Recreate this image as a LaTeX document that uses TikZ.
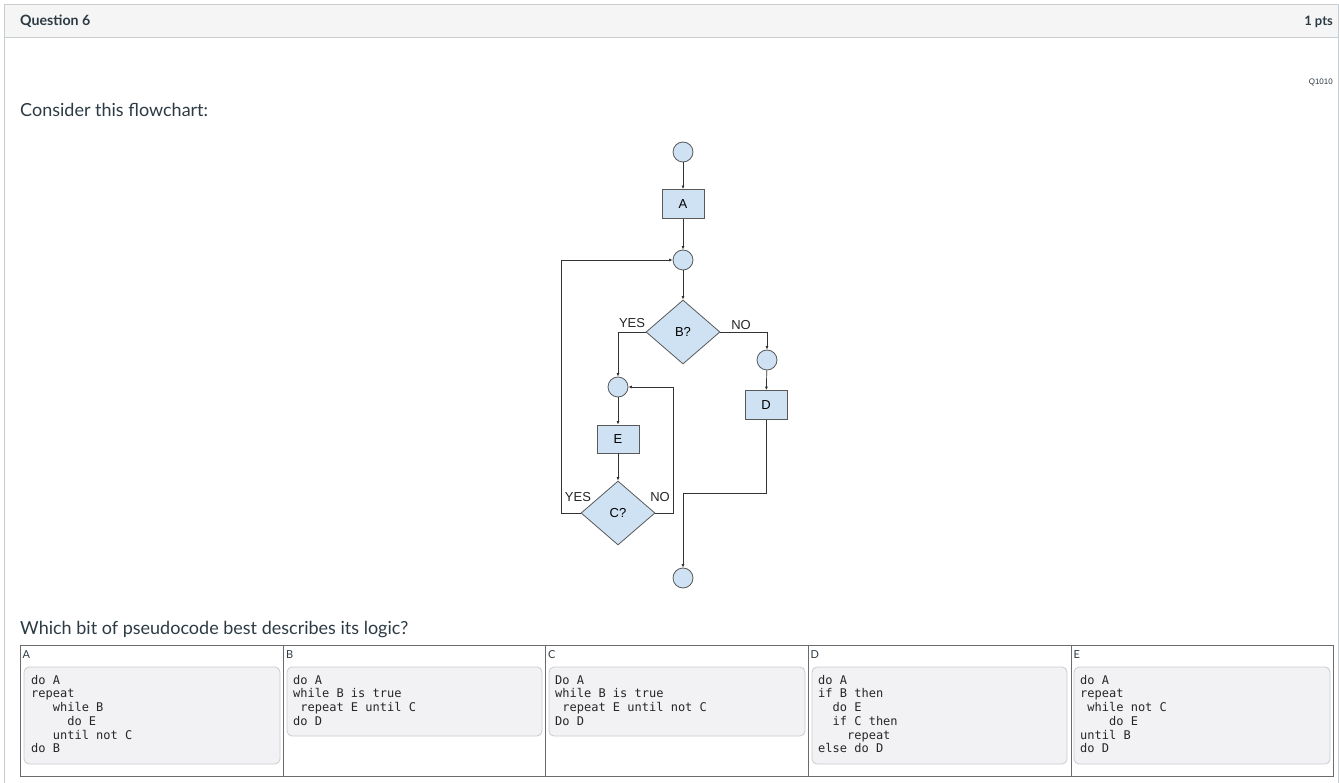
\documentclass[tikz,border=0pt]{standalone}
\usepackage{fontspec}
\setmainfont{Lato}
\setmonofont{DejaVu Sans Mono}
\newfontfamily\arialf{Liberation Sans}
\usetikzlibrary{shapes.geometric,arrows.meta}
\definecolor{hdrfill}{HTML}{F5F5F5}
\definecolor{hdrline}{HTML}{C7CDD1}
\definecolor{txt}{HTML}{2D3B45}
\definecolor{fcfill}{HTML}{CFE2F3}
\definecolor{fcline}{HTML}{595959}
\definecolor{codefill}{HTML}{F2F2F4}
\definecolor{codeline}{HTML}{C7CDD1}
\definecolor{tabline}{HTML}{6B6B6B}
\tikzset{
  fcjoin/.style={circle, draw=fcline, fill=fcfill, line width=0.8pt, minimum size=20pt, inner sep=0pt},
  fcbox/.style={rectangle, draw=fcline, fill=fcfill, line width=0.8pt, minimum width=42pt, minimum height=29pt, inner sep=0pt, font=\arialf\fontsize{13}{15}\selectfont},
  fcdec/.style={diamond, aspect=1.156, draw=fcline, fill=fcfill, line width=0.8pt, minimum width=74pt, minimum height=64pt, inner sep=0pt, font=\arialf\fontsize{13}{15}\selectfont},
  fclab/.style={font=\arialf\fontsize{13}{15}\selectfont, inner sep=0pt, text=black!85},
  conn/.style={draw=black!80, line width=0.7pt, -{Latex[length=3.5pt,width=3pt]}},
  plain/.style={draw=black!80, line width=0.7pt},
  codebox/.style={draw=codeline, fill=codefill, rounded corners=5pt, line width=0.8pt},
  codetxt/.style={anchor=base west, inner sep=0pt, text=black!85, font=\ttfamily\fontsize{12}{13.75}\selectfont},
  collab/.style={anchor=north west, inner sep=0pt, text=txt, font=\fontsize{11}{13}\selectfont},
}
\newcommand{\codecol}[1]{\begin{tabular}[t]{@{}l@{}}#1\end{tabular}}
\begin{document}
\begin{tikzpicture}[x=1pt,y=-1pt]
\useasboundingbox (0,0) rectangle (1339,783);
\fill[white] (0,0) rectangle (1339,783);
% header
\fill[hdrfill] (4.5,4.5) rectangle (1338,38);
\draw[hdrline, line width=1pt] (4.5,783) -- (4.5,4.5) -- (1338,4.5) -- (1338,783);
\draw[hdrline, line width=1pt] (4.5,38) -- (1338,38);
\node[anchor=base west, inner sep=0pt, text=txt, font=\bfseries\fontsize{14.2}{16}\selectfont] (qtitle) at (20,26) {Question 6};
\node[anchor=base east, inner sep=0pt, text=txt, font=\bfseries\fontsize{13}{15}\selectfont] (qpts) at (1333,26) {1 pts};
\node[anchor=base east, inner sep=0pt, text=txt, font=\arialf\fontsize{8}{9}\selectfont] (qid) at (1333,85) {Q1010};
\node[anchor=base west, inner sep=0pt, text=txt, font=\fontsize{18}{22}\selectfont] (consider) at (20,117) {Consider this flowchart:};
\node[anchor=base west, inner sep=0pt, text=txt, font=\fontsize{18}{22}\selectfont] (which) at (20,634) {Which bit of pseudocode best describes its logic?};

% flowchart
\node[fcjoin] (s1) at (683,152) {};
\node[fcbox] (A) at (683,204) {A};
\node[fcjoin] (j1) at (683,260) {};
\node[fcdec] (B) at (683,332) {B?};
\node[fcjoin] (j2) at (618,387) {};
\node[fcbox, minimum height=28pt] (E) at (618,439) {E};
\node[fcdec] (C) at (618,513) {C?};
\node[fcjoin] (j3) at (767,360) {};
\node[fcbox] (D) at (766,405) {D};
\node[fcjoin] (fin) at (683,578) {};
\coordinate (k) at (683,493);

\draw[conn] (s1) -- (A);
\draw[conn] (A) -- (j1);
\draw[conn] (j1) -- (B.north);
\draw[conn] (B.west) -| (j2.north);
\draw[conn] (B.east) -| (j3.north);
\draw[conn] (j3) -- (D);
\draw[conn] (j2) -- (E);
\draw[conn] (E) -- (C.north);
\draw[conn] (C.east) -- ++(18,0) |- (j2.east);
\draw[conn] (C.west) -- ++(-19,0) |- (j1.west);
\draw[plain] (D.south) |- (k);
\draw[conn] (k) -- (fin.north);

\node[fclab] (yesB) at (632,323) {YES};
\node[fclab] (noB) at (741,325) {NO};
\node[fclab] (yesC) at (578,497) {YES};
\node[fclab] (noC) at (660,497) {NO};

% answer table
\draw[tabline, line width=1pt] (20,645) rectangle (1333,776);
\foreach \xx in {283.5,545.5,808,1071}{\draw[tabline, line width=1pt] (\xx,645) -- (\xx,776);}
\node[collab] (la) at (22.5,650) {A};
\node[collab] (lb) at (286,650) {B};
\node[collab] (lc) at (548,650) {C};
\node[collab] (ld) at (810.5,650) {D};
\node[collab] (le) at (1073.5,650) {E};

\draw[codebox] (24,667) rectangle (280,764);
\draw[codebox] (287,667) rectangle (542,736);
\draw[codebox] (549,667) rectangle (805,736);
\draw[codebox] (812,667) rectangle (1067,764);
\draw[codebox] (1074,667) rectangle (1330,764);

\node[codetxt] (ca) at (31,684) {\codecol{do A\\repeat\\~~~while B\\~~~~~do E\\~~~until not C\\do B}};
\node[codetxt] (cb) at (293,684) {\codecol{do A\\while B is true\\~repeat E until C\\do D}};
\node[codetxt] (cc) at (555,684) {\codecol{Do A\\while B is true\\~repeat E until not C\\Do D}};
\node[codetxt] (cd) at (818,684) {\codecol{do A\\if B then\\~~do E\\~~if C then\\~~~~repeat\\else do D}};
\node[codetxt] (ce) at (1080,684) {\codecol{do A\\repeat\\~while not C\\~~~~do E\\until B\\do D}};
\end{tikzpicture}
\end{document}
